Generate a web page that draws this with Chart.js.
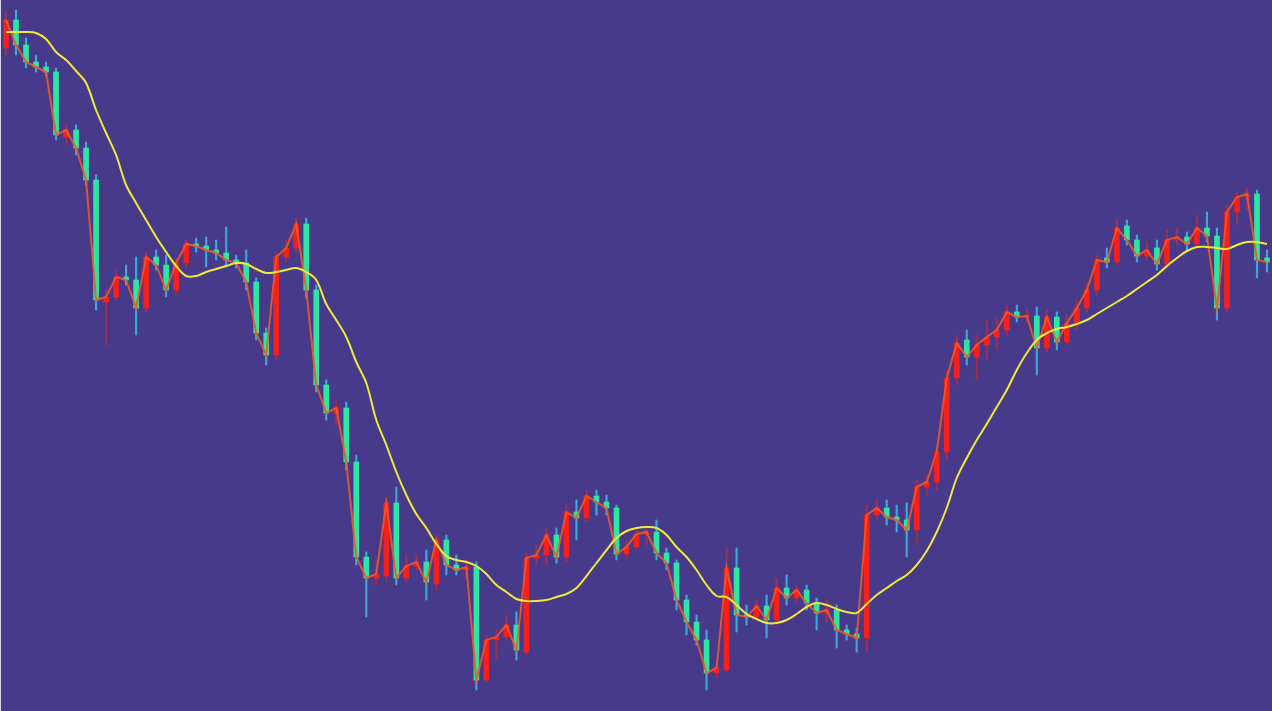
<!DOCTYPE html>
<html lang="en">
<head>
    <meta charset="UTF-8">
    <title>K-line with moving average</title>
    <script src="https://cdn.jsdelivr.net/npm/chart.js"></script>
    <style>
        body {
            margin: 0;
            padding: 0;
            background-color: #473a8a;
            overflow: hidden;
        }

        .chart-container {
            position: relative;
            width: 1271px;
            height: 711px;
            border-left: 1px solid #d6d3ea;
        }
    </style>
</head>
<body>

    <div class="chart-container">
        <canvas id="klineChart"></canvas>
    </div>

    <script>
        // Daily candles (index points)
        const opens = [
            3663, 3691, 3666, 3649, 3644, 3639, 3574, 3581, 3563, 3531,
            3409, 3414, 3434, 3431, 3403, 3454, 3446, 3421, 3448, 3467,
            3465, 3461, 3458, 3451, 3448, 3429, 3378, 3356, 3454, 3463,
            3487, 3421, 3326, 3298, 3303, 3249, 3154, 3133, 3135, 3208,
            3133, 3145, 3149, 3127, 3171, 3146, 3141, 3144, 3031, 3071,
            3074, 3086, 3059, 3153, 3156, 3176, 3154, 3199, 3193, 3215,
            3209, 3203, 3157, 3164, 3177, 3179, 3158, 3148, 3111, 3089,
            3071, 3038, 3041, 3143, 3096, 3094, 3105, 3091, 3123, 3113,
            3121, 3108, 3098, 3101, 3081, 3077, 3073, 3196, 3203, 3194,
            3191, 3181, 3224, 3229, 3259, 3333, 3371, 3354, 3366, 3374,
            3381, 3399, 3394, 3395, 3363, 3394, 3369, 3388, 3403, 3421,
            3453, 3449, 3485, 3471, 3455, 3463, 3447, 3471, 3474, 3467,
            3483, 3475, 3403, 3499, 3514, 3517, 3453
        ];
        const closes = [
            3691, 3666, 3649, 3644, 3639, 3576, 3581, 3563, 3531, 3411,
            3414, 3434, 3431, 3403, 3454, 3446, 3421, 3448, 3467, 3465,
            3461, 3458, 3451, 3448, 3429, 3378, 3356, 3454, 3463, 3487,
            3421, 3326, 3298, 3303, 3249, 3154, 3133, 3137, 3208, 3133,
            3145, 3149, 3129, 3171, 3146, 3141, 3144, 3031, 3071, 3074,
            3086, 3061, 3153, 3156, 3176, 3154, 3199, 3193, 3215, 3209,
            3203, 3157, 3164, 3177, 3179, 3158, 3148, 3111, 3089, 3071,
            3038, 3043, 3143, 3096, 3094, 3105, 3091, 3123, 3113, 3121,
            3108, 3098, 3101, 3081, 3077, 3073, 3196, 3203, 3194, 3191,
            3181, 3224, 3229, 3259, 3333, 3368, 3354, 3366, 3374, 3381,
            3399, 3394, 3395, 3363, 3394, 3369, 3388, 3403, 3421, 3451,
            3449, 3483, 3471, 3455, 3461, 3447, 3471, 3474, 3467, 3483,
            3475, 3403, 3499, 3514, 3517, 3451, 3449
        ];
        const highs = [
            3699, 3701, 3673, 3656, 3649, 3643, 3586, 3586, 3569, 3536,
            3421, 3441, 3446, 3454, 3459, 3461, 3456, 3453, 3471, 3473,
            3474, 3471, 3484, 3456, 3461, 3433, 3383, 3459, 3471, 3493,
            3493, 3426, 3331, 3311, 3309, 3256, 3159, 3151, 3213, 3224,
            3156, 3156, 3161, 3176, 3176, 3156, 3151, 3149, 3076, 3081,
            3096, 3099, 3158, 3166, 3183, 3183, 3206, 3211, 3221, 3221,
            3216, 3206, 3171, 3181, 3186, 3191, 3163, 3151, 3116, 3096,
            3081, 3051, 3163, 3163, 3106, 3111, 3116, 3133, 3136, 3126,
            3126, 3113, 3111, 3106, 3086, 3083, 3206, 3211, 3211, 3206,
            3208, 3231, 3236, 3266, 3341, 3376, 3381, 3376, 3391, 3393,
            3406, 3406, 3401, 3404, 3401, 3399, 3396, 3411, 3428, 3456,
            3463, 3491, 3491, 3476, 3469, 3471, 3481, 3483, 3479, 3496,
            3499, 3483, 3506, 3519, 3523, 3521, 3461
        ];
        const lows = [
            3656, 3656, 3643, 3639, 3635, 3571, 3566, 3556, 3526, 3401,
            3366, 3411, 3426, 3376, 3399, 3441, 3414, 3416, 3443, 3459,
            3444, 3451, 3444, 3443, 3421, 3371, 3346, 3351, 3449, 3459,
            3413, 3319, 3291, 3286, 3241, 3146, 3094, 3126, 3129, 3126,
            3129, 3141, 3111, 3121, 3136, 3136, 3131, 3021, 3029, 3051,
            3071, 3051, 3056, 3146, 3146, 3148, 3149, 3171, 3189, 3196,
            3196, 3151, 3151, 3161, 3166, 3151, 3141, 3101, 3076, 3066,
            3021, 3033, 3039, 3079, 3086, 3091, 3073, 3086, 3106, 3109,
            3101, 3081, 3089, 3063, 3071, 3059, 3059, 3191, 3186, 3179,
            3154, 3166, 3216, 3221, 3251, 3326, 3346, 3331, 3351, 3361,
            3376, 3389, 3389, 3336, 3359, 3361, 3366, 3381, 3399, 3416,
            3443, 3446, 3466, 3449, 3451, 3441, 3443, 3466, 3461, 3463,
            3469, 3391, 3399, 3486, 3501, 3433, 3439
        ];
        // moving average (yellow line)
        const maValues = [
            3679, 3679, 3679, 3678, 3672, 3659, 3651, 3640, 3628, 3601,
            3578, 3556, 3526, 3508, 3491, 3474, 3459, 3445, 3435, 3435,
            3439, 3442, 3445, 3448, 3447, 3442, 3438, 3439, 3441, 3443,
            3439, 3431, 3407, 3391, 3374, 3349, 3328, 3291, 3266, 3239,
            3216, 3197, 3183, 3167, 3155, 3151, 3149, 3145, 3137, 3126,
            3119, 3112, 3110, 3110, 3111, 3114, 3117, 3123, 3135, 3148,
            3161, 3173, 3180, 3183, 3184, 3183, 3176, 3164, 3154, 3141,
            3126, 3115, 3114, 3106, 3097, 3092, 3088, 3088, 3091, 3097,
            3104, 3108, 3106, 3102, 3099, 3098, 3107, 3116, 3123, 3130,
            3136, 3146, 3160, 3179, 3203, 3233, 3253, 3271, 3287, 3304,
            3321, 3341, 3358, 3371, 3378, 3382, 3384, 3387, 3391, 3397,
            3403, 3409, 3415, 3422, 3429, 3436, 3445, 3453, 3460, 3464,
            3464, 3463, 3462, 3466, 3469, 3469, 3467
        ];

        const yMin = 3000;
        const yMax = 3711;

        const upColor = '#f5201c';
        const downColor = '#2ee6a2';
        const upWick = 'rgba(225, 40, 40, 0.55)';
        const downWick = '#3aa8dc';

        const labels = opens.map((_, i) => i + 1);
        const isUp = opens.map((o, i) => closes[i] >= o);

        const ctx = document.getElementById('klineChart').getContext('2d');
        new Chart(ctx, {
            data: {
                labels: labels,
                datasets: [
                    {
                        type: 'line',
                        label: 'MA',
                        data: maValues,
                        borderColor: '#f0e83a',
                        borderWidth: 2,
                        pointRadius: 0,
                        tension: 0.35,
                        order: 0
                    },
                    {
                        type: 'line',
                        label: 'Close',
                        data: closes,
                        borderColor: 'rgba(238, 88, 40, 0.9)',
                        borderWidth: 2,
                        pointRadius: 0,
                        tension: 0,
                        order: 1
                    },
                    {
                        type: 'bar',
                        label: 'Body',
                        data: opens.map((o, i) => [o, closes[i]]),
                        backgroundColor: isUp.map(u => u ? upColor : downColor),
                        barThickness: 5,
                        minBarLength: 2,
                        grouped: false,
                        order: 2
                    },
                    {
                        type: 'bar',
                        label: 'Wick',
                        data: lows.map((l, i) => [l, highs[i]]),
                        backgroundColor: isUp.map(u => u ? upWick : downWick),
                        barThickness: 1.5,
                        grouped: false,
                        order: 3
                    }
                ]
            },
            options: {
                responsive: true,
                maintainAspectRatio: false,
                animation: false,
                layout: { padding: 0 },
                scales: {
                    x: { display: false, offset: true },
                    y: { display: false, min: yMin, max: yMax }
                },
                plugins: {
                    legend: { display: false },
                    tooltip: { enabled: false }
                }
            }
        });
    </script>

</body>
</html>
